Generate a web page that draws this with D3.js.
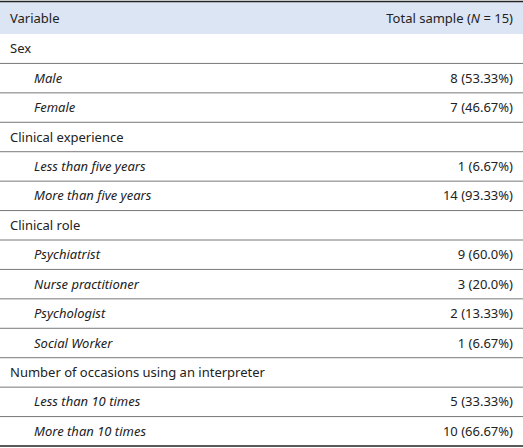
<!DOCTYPE html>
<html><head><meta charset="utf-8">
<script src="https://cdn.jsdelivr.net/npm/d3@7"></script>
<style>body{margin:0;background:#fff}</style>
</head><body><svg id="c" width="523" height="448"></svg>
<script>
const headers = ["Variable", "Total sample"];
const labels = ["Sex","Male","Female","Clinical experience","Less than five years","More than five years","Clinical role","Psychiatrist","Nurse practitioner","Psychologist","Social Worker","Number of occasions using an interpreter","Less than 10 times","More than 10 times"];
const isSub = [false,true,true,false,true,true,false,true,true,true,true,false,true,true];
const values = ["","8 (53.33%)","7 (46.67%)","","1 (6.67%)","14 (93.33%)","","9 (60.0%)","3 (20.0%)","2 (13.33%)","1 (6.67%)","","5 (33.33%)","10 (66.67%)"];

const svg = d3.select("#c");
const W = 523, tableTop = 2, headH = 32, tableBottom = 446;
const y = d3.scaleBand().domain(d3.range(labels.length)).range([tableTop+headH, tableBottom]);
const font = "'Noto Sans', sans-serif";
svg.append("rect").attr("x",0).attr("y",tableTop).attr("width",W).attr("height",headH).attr("fill","#dbe5f3");
svg.append("line").attr("x1",0).attr("x2",W).attr("y1",1.5).attr("y2",1.5).attr("stroke","#222").attr("stroke-width",1.5);
svg.append("text").attr("x",10).attr("y",tableTop+headH/2).attr("dy","0.35em").attr("font-family",font).attr("font-size",13).attr("fill","#222").text(headers[0]);
const ht = svg.append("text").attr("x",513).attr("y",tableTop+headH/2).attr("dy","0.35em").attr("text-anchor","end").attr("font-family",font).attr("font-size",13).attr("fill","#222");
ht.append("tspan").text(headers[1]+" (");
ht.append("tspan").attr("font-style","italic").text("N");
ht.append("tspan").text(" = 15)");
const g = svg.selectAll("g.r").data(labels).join("g").attr("class","r");
g.append("line").attr("x1",0).attr("x2",W).attr("y1",(d,i)=>y(i)+y.bandwidth()).attr("y2",(d,i)=>y(i)+y.bandwidth())
 .attr("stroke",(d,i)=>i==labels.length-1?"#222":"#555").attr("stroke-width",(d,i)=>i==labels.length-1?1.5:0.8);
g.append("text").attr("x",(d,i)=>isSub[i]?34:10).attr("y",(d,i)=>y(i)+y.bandwidth()/2).attr("dy","0.35em")
 .attr("font-family",font).attr("font-size",13).attr("fill","#222").attr("font-style",(d,i)=>isSub[i]?"italic":"normal").text(d=>d);
g.append("text").attr("x",513).attr("y",(d,i)=>y(i)+y.bandwidth()/2).attr("dy","0.35em").attr("text-anchor","end")
 .attr("font-family",font).attr("font-size",13).attr("fill","#222").text((d,i)=>values[i]);
</script></body></html>
